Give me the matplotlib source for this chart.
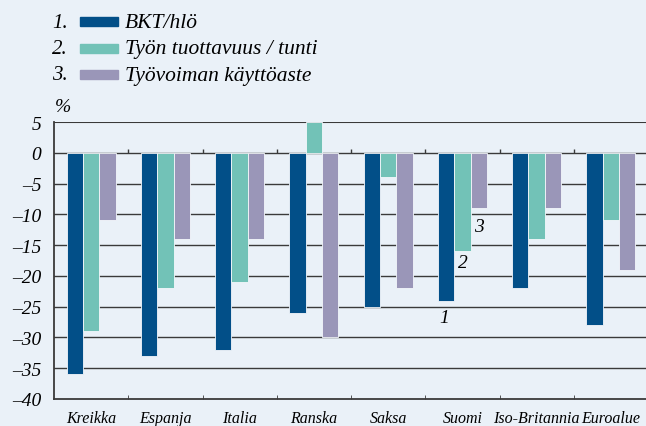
import matplotlib.pyplot as plt
import numpy as np
from matplotlib.patches import Rectangle

countries = ["Kreikka", "Espanja", "Italia", "Ranska", "Saksa", "Suomi",
             "Iso-Britannia", "Euroalue"]
bkt = [-36, -33, -32, -26, -25, -24, -22, -28]
tuottavuus = [-29, -22, -21, 5, -4, -16, -14, -11]
kayttoaste = [-11, -14, -14, -30, -22, -9, -9, -19]
series_labels = ["BKT/hlö", "Työn tuottavuus / tunti", "Työvoiman käyttöaste"]
yticks = [5, 0, -5, -10, -15, -20, -25, -30, -35, -40]

BG = "#eaf1f8"
COLORS = ["#024f88", "#72c2b7", "#9a96b8"]
GRID = "#3a3a3a"
FONT = ["Liberation Serif", "DejaVu Serif"]

plt.rcParams["font.family"] = FONT
plt.rcParams["font.style"] = "italic"

fig = plt.figure(figsize=(6.46, 4.27), dpi=100, facecolor=BG)
ax = fig.add_axes([54 / 646, 1 - 400 / 427, 594 / 646, 277 / 427], facecolor=BG)

x = np.arange(len(countries))
width = 0.22
for i, (vals, color) in enumerate(zip([bkt, tuottavuus, kayttoaste], COLORS)):
    ax.bar(x + (i - 1) * width, vals, width, color=color,
           edgecolor="#f4f7fb", linewidth=0.6, zorder=3)

ax.set_xlim(-0.5, len(countries) - 0.5)
ax.set_ylim(-40, 5)
ax.set_yticks(yticks)
ax.set_yticklabels([str(t).replace("-", "\u2013") for t in yticks], fontsize=14)
for t in yticks[1:-1]:
    ax.axhline(t, color=GRID, linewidth=1.0, zorder=2)
ax.axhline(5, color=GRID, linewidth=1.5, zorder=2)

# category boundary ticks on the bottom spine and on the zero line
bounds = np.arange(len(countries) - 1) + 0.5
ax.vlines(bounds, 0, 0.6, color=GRID, linewidth=1.0, zorder=2)
ax.set_xticks(bounds, minor=True)
ax.set_xticks(x)
ax.set_xticklabels(countries, fontsize=11.5)
ax.tick_params(axis="x", which="major", length=0, pad=8)
ax.tick_params(axis="x", which="minor", direction="in", length=3, color=GRID)
ax.tick_params(axis="y", length=0, pad=9)

ax.spines["right"].set_visible(False)
ax.spines["top"].set_visible(False)
ax.spines["left"].set_color(GRID)
ax.spines["bottom"].set_color(GRID)
ax.spines["left"].set_linewidth(1.3)
ax.spines["bottom"].set_linewidth(1.3)

# series numbers next to the Suomi bars
suomi = countries.index("Suomi")
ax.text(suomi - 0.24, -26.7, "1", fontsize=14, ha="center", va="center")
ax.text(suomi, -17.9, "2", fontsize=14, ha="center", va="center")
ax.text(suomi + 0.22, -11.9, "3", fontsize=14, ha="center", va="center")

# legend
for i, (label, color) in enumerate(zip(series_labels, COLORS)):
    y = 1 - (23 + 26.5 * i) / 427
    fig.text(52 / 646, y, f"{i + 1}.", fontsize=15, va="center", ha="left")
    fig.patches.append(Rectangle((80 / 646, y - 4 / 427), 38 / 646, 9 / 427,
                                 transform=fig.transFigure, color=color))
    fig.text(125 / 646, y, label, fontsize=15.5, va="center", ha="left")

fig.text(55 / 646, 1 - 107 / 427, "%", fontsize=14, va="center", ha="left")

fig.savefig("out.png", dpi=100, facecolor=BG)
